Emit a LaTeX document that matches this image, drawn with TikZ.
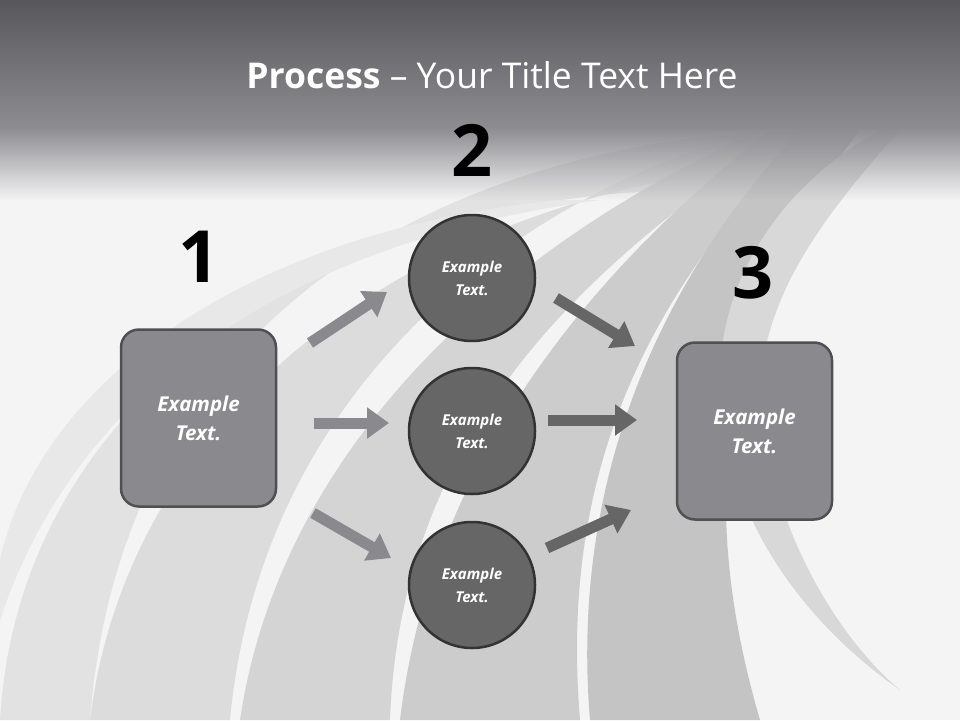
\documentclass[tikz,border=0pt]{standalone}
\usepackage{fontspec}
\setmainfont{Open Sans}
\usetikzlibrary{arrows.meta,fadings}
\definecolor{boxg}{HTML}{8A8A8E}
\definecolor{circg}{HTML}{666666}
\definecolor{edge}{HTML}{505052}
\definecolor{bg}{HTML}{F4F4F4}
\definecolor{g1}{HTML}{E2E2E2}
\definecolor{g2}{HTML}{DCDCDC}
\definecolor{g3}{HTML}{D4D4D4}
\definecolor{g4}{HTML}{CCCCCC}
\definecolor{g5}{HTML}{C4C4C4}
\definecolor{g6}{HTML}{D8D8D8}
\definecolor{g7}{HTML}{E8E8E8}
\definecolor{hdtop}{HTML}{58585C}
\definecolor{hdbot}{HTML}{8C8C91}
\tikzset{
  sq/.style={draw=edge,line width=2.5pt,fill=boxg,rounded corners=18pt,minimum width=155pt,minimum height=177pt,text=white,align=center,font=\bfseries\itshape\fontsize{20.5}{29}\selectfont},
  circ/.style={circle,draw=black!80,line width=2.5pt,fill=circg,minimum size=126pt,text=white,align=center,font=\bfseries\itshape\fontsize{15}{23}\selectfont},
  num/.style={font=\bfseries\fontsize{72}{72}\selectfont},
  larr/.style={line width=11pt,boxg,-{Triangle[length=22pt,width=30pt]}},
  darr/.style={line width=11pt,circg,-{Triangle[length=22pt,width=30pt]}},
  band/.style={fill=#1,draw=none}
}
\begin{document}
\begin{tikzpicture}[x=1pt,y=-1pt]
\useasboundingbox (0,0) rectangle (960,720);
\clip (0,0) rectangle (960,720);
\fill[bg] (0,0) rectangle (960,720);
% background bands
\fill[band=g1] (0,720) .. controls (20,380) and (350,190) .. (700,190) -- (780,130) .. controls (420,150) and (120,330) .. (90,720) -- cycle;
\fill[band=g2] (90,720) .. controls (130,400) and (420,210) .. (730,170) -- (760,130) .. controls (500,200) and (260,400) .. (230,720) -- cycle;
\fill[band=g3] (240,720) .. controls (280,450) and (500,250) .. (740,140) -- (790,130) .. controls (560,280) and (400,450) .. (390,720) -- cycle;
\fill[band=g4] (400,720) .. controls (430,470) and (580,280) .. (770,130) -- (810,130) .. controls (640,300) and (560,480) .. (580,720) -- cycle;
\fill[band=g5] (590,720) .. controls (570,480) and (660,280) .. (800,130) -- (860,130) .. controls (730,300) and (690,480) .. (760,720) -- cycle;
\fill[band=g6] (720,380) .. controls (720,270) and (790,180) .. (880,130) -- (900,130) .. controls (820,220) and (760,300) .. (760,400) .. controls (770,530) and (840,640) .. (900,690) .. controls (800,620) and (720,510) .. (720,380) -- cycle;
\fill[band=g7] (0,560) .. controls (40,380) and (250,230) .. (560,200) -- (600,200) .. controls (300,240) and (80,380) .. (0,620) -- cycle;
% header
\shade[top color=hdtop,bottom color=hdbot] (-10,0) rectangle (970,128);
\fill[hdbot,path fading=south] (-20,127.5) rectangle (980,200);
\node[text=white,font=\fontsize{35.5}{36}\selectfont] (title) at (492,75) {\textbf{Process} -- Your Title Text Here};
% numbers
\node[num] (n1) at (199,257) {1};
\node[num] (n2) at (472,150) {2};
\node[num] (n3) at (753,273) {3};
% boxes
\node[sq] (b1) at (198.5,418) {Example\\Text.};
\node[sq] (b3) at (754.5,431) {Example\\Text.};
\node[circ] (c1) at (472,278) {Example\\Text.};
\node[circ] (c2) at (472,431) {Example\\Text.};
\node[circ] (c3) at (472,585) {Example\\Text.};
% arrows
\coordinate (a1s) at (310,343); \coordinate (a1e) at (387,292);
\coordinate (a2s) at (314,423); \coordinate (a2e) at (389,423);
\coordinate (a3s) at (313,513); \coordinate (a3e) at (391,558);
\coordinate (d1s) at (556,298); \coordinate (d1e) at (635,346);
\coordinate (d2s) at (548,420); \coordinate (d2e) at (637,420);
\coordinate (d3s) at (547,548); \coordinate (d3e) at (631,510);
\draw[larr] (a1s) -- (a1e);
\draw[larr] (a2s) -- (a2e);
\draw[larr] (a3s) -- (a3e);
\draw[darr] (d1s) -- (d1e);
\draw[darr] (d2s) -- (d2e);
\draw[darr] (d3s) -- (d3e);
\end{tikzpicture}
\end{document}
